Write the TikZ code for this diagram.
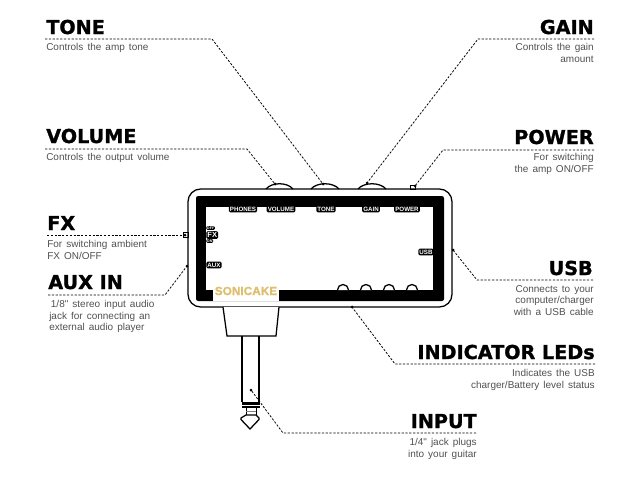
\documentclass[tikz,border=0pt]{standalone}
\usepackage{fontspec}
\newfontfamily\headfont{DejaVu Sans Bold}[FakeBold=1.2]
\newfontfamily\descfont{Liberation Sans}
\newfontfamily\panelfont{Liberation Sans}
\newfontfamily\logofont{Liberation Sans Bold}[FakeBold=0.8]
\definecolor{logogold}{HTML}{DFBE6C}
\definecolor{desctext}{HTML}{505050}
\tikzset{
    heading/.style={inner sep=0pt, font=\headfont\fontsize{13.65pt}{15pt}\selectfont},
    desc/.style={inner sep=0pt, text=desctext, font=\descfont\fontsize{7.1pt}{8.2pt}\selectfont\spaceskip 2.9pt\relax},
    panel/.style={fill=black, text=white, rounded corners=1pt, inner xsep=0.8pt, inner ysep=0.9pt,
        font=\panelfont\bfseries\fontsize{4.4pt}{5pt}\selectfont},
    tiny panel/.style={panel, anchor=west, inner sep=0.5pt, font=\panelfont\bfseries\fontsize{2.6pt}{3pt}\selectfont},
    leader/.style={dash pattern=on 1.6pt off 1.1pt, line width=0.55pt},
    outline/.style={line width=0.9pt}
}
\begin{document}
\begin{tikzpicture}[x=0.025cm,y=-0.025cm]
    \useasboundingbox (0,0) rectangle (640,480);
    \draw[outline, rounded corners=9pt] (188,189) rectangle (452,307);
    \fill[rounded corners=1.5pt] (196,196) rectangle (444,301);
    \fill[white] (206,207) rectangle (433,290);
    \fill[white] (213,285) rectangle (279,301);
    \node (logo) at (246,291) [inner sep=0pt, text=logogold, font=\logofont\fontsize{8.4pt}{9pt}\selectfont] {SONICAKE};
    \draw[outline] (266,189) .. controls (272,182) and (287,182) .. (293,189);
    \draw[outline] (311,189) .. controls (317,182) and (333,182) .. (339,189);
    \draw[outline] (358,189) .. controls (364,182) and (380,182) .. (386,189);
    \draw[line width=0.5pt] (410,185) rectangle (415,189);
    \draw[line width=0.5pt] (183,232) rectangle (188,237);
    \foreach \x in {343,366,389,412}
        \draw[outline, fill=white] (\x-5.5,290) arc (-180:0:5.5);
    \node[panel] (phones) at (243,209) {PHONES};
    \node[panel] (volume) at (281,209) {VOLUME};
    \node[panel] (tone) at (326,209) {TONE};
    \node[panel] (gain) at (371,209) {GAIN};
    \node[panel] (power) at (407,209) {POWER};
    \node[panel] (usb) at (426,252) {USB};
    \node[panel, anchor=west] (aux) at (206,265) {AUX};
    \node[panel, anchor=west, font=\panelfont\bfseries\fontsize{5.4pt}{6pt}\selectfont] (fx) at (206,235) {FX};
    \node[tiny panel] (off) at (206,228) {OFF};
    \node[tiny panel] (on) at (206,241) {ON};
    \draw[outline, fill=white] (223,307) -- (227,336) -- (276,336) -- (279,307);
    \draw[outline] (242,336) -- (242,402);
    \draw[outline] (259,336) -- (259,402);
    \fill (241.5,401.5) rectangle (259.5,404.5);
    \fill (241.5,405.5) rectangle (259.5,408);
    \draw[line width=0.5pt] (246,407) -- (246,415);
    \draw[line width=0.5pt] (256,407) -- (256,415);
    \draw[line width=0.4pt, gray] (246,411) -- (256,411);
    \draw[outline, fill=white] (246,415) -- (241,418) -- (241,419.5) -- (250,429) -- (259,419.5) -- (259,418) -- (256,415) -- cycle;
    \coordinate (toneA) at (45,39);
    \coordinate (toneB) at (212,39);
    \coordinate (toneC) at (323,184);
    \draw[leader] (toneA) -- (toneB) -- (toneC);
    \fill (toneC) circle (1.5);
    \coordinate (volumeA) at (45,149);
    \coordinate (volumeB) at (247,149);
    \coordinate (volumeC) at (275,184);
    \draw[leader] (volumeA) -- (volumeB) -- (volumeC);
    \fill (volumeC) circle (1.5);
    \coordinate (gainA) at (594,39);
    \coordinate (gainB) at (478,39);
    \coordinate (gainC) at (367,183);
    \draw[leader] (gainA) -- (gainB) -- (gainC);
    \fill (gainC) circle (1.5);
    \coordinate (powerA) at (594,150);
    \coordinate (powerB) at (443,150);
    \coordinate (powerC) at (415,186);
    \draw[leader] (powerA) -- (powerB) -- (powerC);
    \fill (powerC) circle (1.5);
    \coordinate (fxA) at (47,235);
    \coordinate (fxB) at (185,235);
    \draw[leader] (fxA) -- (fxB);
    \fill (fxB) circle (1.5);
    \coordinate (auxA) at (48,295);
    \coordinate (auxB) at (165,295);
    \coordinate (auxC) at (187,266);
    \draw[leader] (auxA) -- (auxB) -- (auxC);
    \fill (auxC) circle (1.5);
    \coordinate (usbA) at (593,280);
    \coordinate (usbB) at (477,280);
    \coordinate (usbC) at (453,250);
    \draw[leader] (usbA) -- (usbB) -- (usbC);
    \fill (usbC) circle (1.5);
    \coordinate (ledA) at (595,364);
    \coordinate (ledB) at (395,364);
    \coordinate (ledC) at (352,307);
    \draw[leader] (ledA) -- (ledB) -- (ledC);
    \fill (ledC) circle (1.5);
    \coordinate (inputA) at (476,433);
    \coordinate (inputB) at (283,433);
    \coordinate (inputC) at (251,390);
    \draw[leader] (inputA) -- (inputB) -- (inputC);
    \fill (inputC) circle (1.5);
    \node[heading, anchor=base west] (toneT) at (46,34) {TONE};
    \node[heading, anchor=base west] (volumeT) at (46,143) {VOLUME};
    \node[heading, anchor=base east] (gainT) at (594,34) {GAIN};
    \node[heading, anchor=base east] (powerT) at (594,144) {POWER};
    \node[heading, anchor=base west] (fxT) at (47,230) {FX};
    \node[heading, anchor=base west] (auxT) at (48,289) {AUX IN};
    \node[heading, anchor=base east] (usbT) at (593,275) {USB};
    \node[heading, anchor=base east] (ledT) at (595,359) {INDICATOR LEDs};
    \node[heading, anchor=base east] (inputT) at (477,428) {INPUT};
    \node[desc, anchor=north west, align=left] (toneD) at (46,43) {Controls the amp tone};
    \node[desc, anchor=north west, align=left] (volumeD) at (46,153) {Controls the output volume};
    \node[desc, anchor=north east, align=right] (gainD) at (594,43) {Controls the gain\\amount};
    \node[desc, anchor=north east, align=right] (powerD) at (594,153) {For switching\\the amp ON/OFF};
    \node[desc, anchor=north west, align=left] (fxD) at (47,240) {For switching ambient\\FX ON/OFF};
    \node[desc, anchor=north west, align=left] (auxD) at (49,300) {\,1/8" stereo input audio\\jack for connecting an\\external audio player};
    \node[desc, anchor=north east, align=right] (usbD) at (594,285) {Connects to your\\computer/charger\\with a USB cable};
    \node[desc, anchor=north east, align=right] (ledD) at (595,369) {Indicates the USB\\charger/Battery level status};
    \node[desc, anchor=north east, align=right] (inputD) at (477,438) {1/4" jack plugs\\into your guitar};
\end{tikzpicture}
\end{document}
